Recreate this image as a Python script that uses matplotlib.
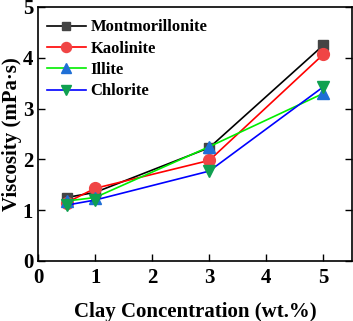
import matplotlib
matplotlib.use("Agg")
import matplotlib.pyplot as plt

x = [0.5, 1, 3, 5]
montmorillonite = [1.25, 1.35, 2.23, 4.25]
kaolinite = [1.15, 1.43, 1.98, 4.07]
illite = [1.18, 1.25, 2.25, 3.30]
chlorite = [1.10, 1.20, 1.77, 3.43]
labels = ["Montmorillonite", "Kaolinite", "Illite", "Chlorite"]

plt.rcParams['font.family'] = ['Liberation Serif', 'DejaVu Serif']
plt.rcParams['font.weight'] = 'bold'

fig = plt.figure(figsize=(3.53, 3.21), dpi=100)
ax = fig.add_axes([38/353, 1 - 261/321, (352-38)/353, (261-7)/321])

ax.plot(x, montmorillonite, color='black', lw=1.2, marker='s', ms=7, mfc='#444444', mec='#444444', label=labels[0])
ax.plot(x, kaolinite, color='#ff0000', lw=1.2, marker='o', ms=8.5, mfc='#f04545', mec='#f04545', label=labels[1])
ax.plot(x, illite, color='#00ee00', lw=1.2, marker='^', ms=9, mfc='#1f6fd6', mec='#1f6fd6', label=labels[2])
ax.plot(x, chlorite, color='#0000ff', lw=1.2, marker='v', ms=9, mfc='#10a050', mec='#10a050', label=labels[3])

ax.set_xlim(0, 5.5)
ax.set_ylim(0, 5)
ax.set_xticks([0, 1, 2, 3, 4, 5])
ax.set_yticks([0, 1, 2, 3, 4, 5])
ax.tick_params(direction='in', top=False, right=True, labelsize=15, length=5, width=1)
ax.tick_params(axis='x', pad=5)
for s in ax.spines.values():
    s.set_linewidth(1.2)
ax.set_xlabel('Clay Concentration (wt.%)', fontsize=15, fontweight='bold', labelpad=10)
ax.set_ylabel('Viscosity (mPa·s)', fontsize=15, fontweight='bold')
ax.yaxis.set_label_coords(-0.05, 0.5)

leg = ax.legend(loc='upper left', bbox_to_anchor=(0, 0.987), frameon=False, fontsize=12,
                handlelength=2.3, borderaxespad=0.35, borderpad=0.2, labelspacing=0.32,
                handletextpad=0.3, markerscale=0.85)
for t in leg.get_texts():
    t.set_fontweight('bold')

fig.savefig('out.png', dpi=100)
